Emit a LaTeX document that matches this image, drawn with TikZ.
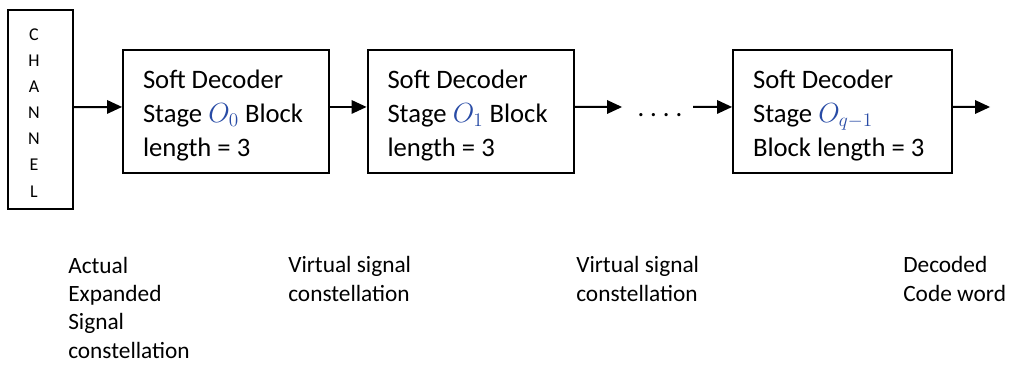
\documentclass[tikz,border=0pt]{standalone}
\usepackage{fontspec}
\setmainfont{Carlito}
\usepackage{tikz}
\usepackage{color}
\definecolor{eqblue}{RGB}{40,75,165}
\newcommand{\plainsp}{\spaceskip=0pt\xspaceskip=0pt\rule{0pt}{20pt}}

\begin{document}
\begin{tikzpicture}[x=0.75pt,y=0.75pt]
                \tikzstyle{every node}+=[inner sep=0pt]
                \tikzstyle{stagebox}=[draw=black, line width=1.5pt, minimum height=92.25pt, align=left, inner xsep=15pt, font=\fontsize{20}{25.5}\selectfont]
                \tikzstyle{caption}=[anchor=base west, align=left, font=\fontsize{17.5}{21.2}\selectfont]
                \tikzstyle{link}=[black, line width=1.5pt, shorten >=6pt]
                \useasboundingbox (0,0) rectangle (1013,-367);
                % channel
                \node [draw=black, line width=1.5pt, minimum width=48.75pt, minimum height=149.25pt] (chan) at (40.5,-109.5) {};
                \node [anchor=base, align=center, font=\fontsize{13.5}{19.6}\selectfont] (chantext) at (34,-197) {C\\H\\A\\N\\N\\E\\L};
                % decoder stages
                \node [stagebox, text width=124.5pt] (st0) at (226,-111.5) {\plainsp Soft Decoder\\Stage {\color{eqblue}$O_0$} Block\\length = 3};
                \node [stagebox, text width=124.5pt] (st1) at (470.5,-111.5) {\plainsp Soft Decoder\\Stage {\color{eqblue}$O_1$} Block\\length = 3};
                \node [stagebox, text width=134.25pt] (stq) at (842.5,-111.5) {\plainsp Soft Decoder\\Stage {\color{eqblue}$O_{q-1}$}\\Block length = 3};
                \node [anchor=base, font=\fontsize{20}{24}\selectfont] (dots) at (660,-117) {.\ .\ .\ .};
                \coordinate (d1) at (622,-107);
                \coordinate (d2) at (693,-107);
                \coordinate (out) at (990,-107);
                % connectors
                \draw [link] ([yshift=1.75pt]chan.east) -- ([yshift=3.4pt]st0.west);
                \fill [black] ([yshift=3.4pt]st0.west) -- ++(-15,7) -- ++(0,-14) -- cycle;
                \draw [link] ([yshift=3.4pt]st0.east) -- ([yshift=3.4pt]st1.west);
                \fill [black] ([yshift=3.4pt]st1.west) -- ++(-15,7) -- ++(0,-14) -- cycle;
                \draw [link] ([yshift=3.4pt]st1.east) -- (d1);
                \fill [black] (d1) -- ++(-15,7) -- ++(0,-14) -- cycle;
                \draw [link] (d2) -- ([yshift=3.4pt]stq.west);
                \fill [black] ([yshift=3.4pt]stq.west) -- ++(-15,7) -- ++(0,-14) -- cycle;
                \draw [link] ([yshift=3.4pt]stq.east) -- (out);
                \fill [black] (out) -- ++(-15,7) -- ++(0,-14) -- cycle;
                % captions
                \node [caption] (cap0) at (68,-358) {Actual\\Expanded\\Signal\\constellation};
                \node [caption] (cap1) at (288,-301) {Virtual signal\\constellation};
                \node [caption] (cap2) at (576,-301) {Virtual signal\\constellation};
                \node [caption] (cap3) at (903,-301) {Decoded\\Code word};
              \end{tikzpicture}
\end{document}
